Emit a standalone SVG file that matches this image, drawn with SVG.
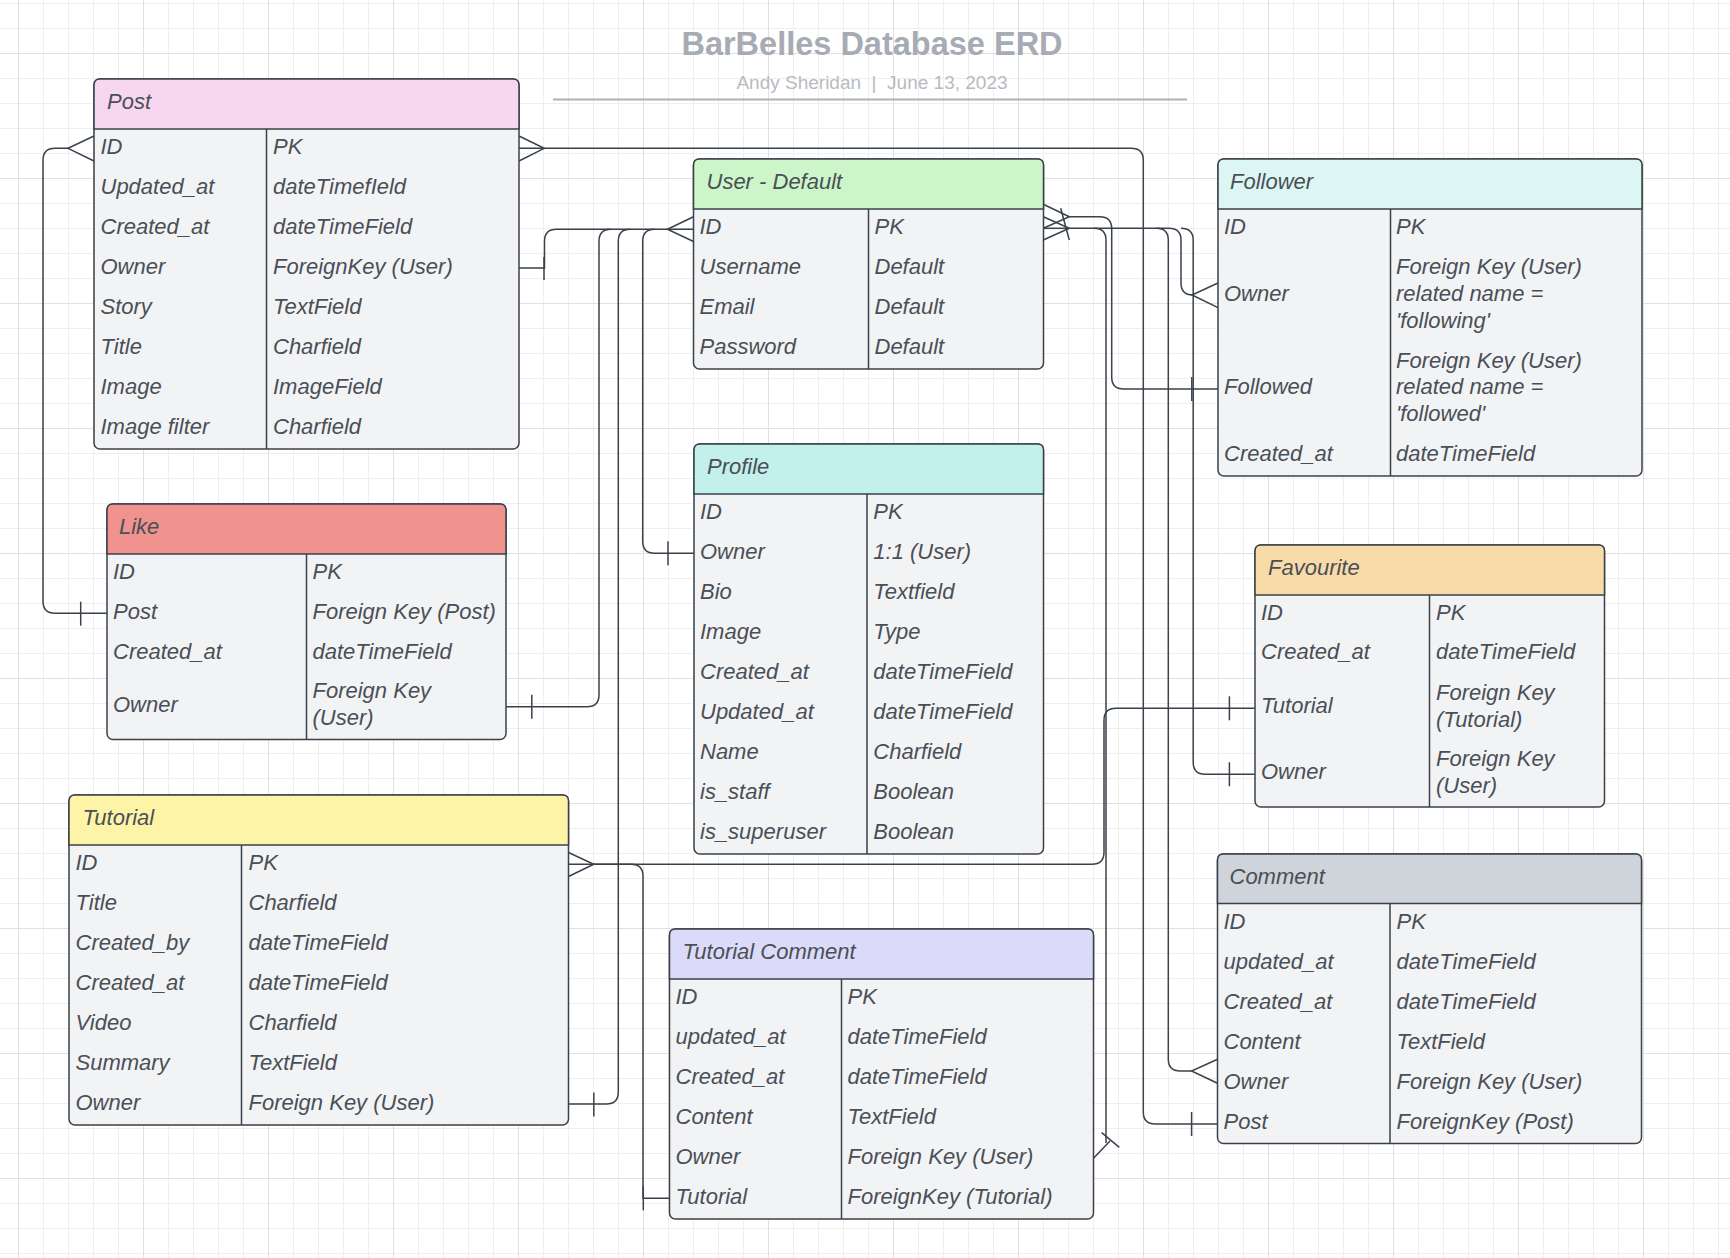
<svg xmlns="http://www.w3.org/2000/svg" width="1730" height="1258" viewBox="0 0 1730 1258">
<defs>
<pattern id="gMinor" width="25" height="25" patternUnits="userSpaceOnUse" x="18" y="3">
<rect x="0" y="0" width="25" height="1" fill="#eeeeee"/>
<rect x="0" y="0" width="1" height="25" fill="#eeeeee"/>
</pattern>
<pattern id="gMajor" width="125" height="125" patternUnits="userSpaceOnUse" x="18" y="53">
<rect x="0" y="0" width="125" height="1" fill="#e0e0e0"/>
<rect x="0" y="0" width="1" height="125" fill="#e0e0e0"/>
</pattern>
</defs>
<style>
text{font-family:"Liberation Sans",Arial,sans-serif;font-size:22px;font-style:italic;fill:#4a4f56}
.body{fill:#f2f3f5;stroke:#3a414a;stroke-width:1.5}
.hdr{stroke:#3a414a;stroke-width:1.5}
.ln{stroke:#3a414a;stroke-width:1.5;fill:none}
.conn path{fill:none;stroke:#3a414a;stroke-width:1.5}
.title{font-style:normal;font-weight:bold;font-size:32.5px;fill:#a7abb3}
.sub{font-style:normal;font-size:19px;fill:#b7bbc1;white-space:pre}
</style>
<rect width="1730" height="1258" fill="#ffffff"/>
<rect width="1730" height="1258" fill="url(#gMinor)"/>
<rect width="1730" height="1258" fill="url(#gMajor)"/>

<g id="title">
<text class="title" x="872" y="55" text-anchor="middle">BarBelles Database ERD</text>
<text class="sub" x="872" y="89" text-anchor="middle" xml:space="preserve">Andy Sheridan  |  June 13, 2023</text>
<line x1="553" y1="99.5" x2="1187" y2="99.5" stroke="#aeb1b8" stroke-width="2.2"/>
</g>

<g id="connectors" class="conn">
<!-- Post.ID left -> Like.Post -->
<path d="M68 148.3 H55 Q43 148.3 43 160.3 V601.3 Q43 613.3 55 613.3 H107"/>
<path d="M94 136 L68 148.3 L94 161"/>
<path d="M80.7 601.7 V625.7"/>
<!-- Post.ID right -> Comment.Post -->
<path d="M519 148.3 H1131.3 Q1143.3 148.3 1143.3 160.3 V1112 Q1143.3 1124 1155.3 1124 H1217.5"/>
<path d="M519 136 L544.2 148.3 L519 161"/>
<path d="M1191.6 1112 V1136"/>
<!-- Post.Owner -> User.ID -->
<path d="M519 268 H544.5 V241.3 Q544.5 229.3 556.5 229.3 H693.5"/>
<path d="M544 257 V280"/>
<path d="M693.5 216.7 L667.4 229.3 L693.5 241.5"/>
<!-- Like.Owner -> User.ID -->
<path d="M506 706.7 H587 Q599 706.7 599 694.7 V241.3 Q599 229.3 611 229.3"/>
<path d="M531.8 694.7 V718.7"/>
<!-- Tutorial.Owner -> User.ID -->
<path d="M568.5 1104 H606.3 Q618.3 1104 618.3 1092 V241.3 Q618.3 229.3 630.3 229.3"/>
<path d="M593.8 1092.5 V1116.5"/>
<!-- Profile.Owner -> User.ID -->
<path d="M694 553.3 H654.7 Q642.7 553.3 642.7 541.3 V241.3 Q642.7 229.3 654.7 229.3"/>
<path d="M668 541.3 V565.3"/>
<!-- Tutorial.ID -> Favourite.Tutorial -->
<path d="M568.5 864.3 H1092 Q1104 864.3 1104 852.3 V720.3 Q1104 708.3 1116 708.3 H1255"/>
<path d="M568.5 852.5 L593.8 864.3 L568.5 876.5"/>
<path d="M1229.4 696.3 V720.3"/>
<!-- Tutorial.ID -> TutorialComment.Tutorial -->
<path d="M593.8 864.3 H631 Q643 864.3 643 876.3 V1198.3 H669.5"/>
<path d="M643.3 1186.3 V1210.3"/>
<!-- User.ID right cluster -->
<path d="M1043.5 228.3 H1069.3"/>
<path d="M1043.3 204.3 L1069.3 216.7 L1043.3 228.3"/>
<path d="M1043.3 216.7 L1069.3 228.3 L1043.3 240"/>
<path d="M1060.7 208.3 L1069.3 240"/>
<!-- User.ID -> Follower.Followed -->
<path d="M1069.3 216.7 H1099.7 Q1111.7 216.7 1111.7 228.7 V377 Q1111.7 389 1123.7 389 H1218"/>
<path d="M1191.8 377 V401"/>
<!-- User.ID -> Follower.Owner -->
<path d="M1069.3 228.3 H1169 Q1181 228.3 1181 240.3 V283 Q1181 295 1193 295"/>
<path d="M1218 283 L1192 295 L1218 307.7"/>
<!-- User.ID -> Favourite.Owner -->
<path d="M1181 228.3 Q1193.2 228.3 1193.2 240.3 V762.3 Q1193.2 774.3 1205.2 774.3 H1255"/>
<path d="M1229.4 762.3 V786.3"/>
<!-- User.ID -> Comment.Owner -->
<path d="M1156.3 228.3 Q1168.3 228.3 1168.3 240.3 V1059 Q1168.3 1071 1180.3 1071 H1191.6"/>
<path d="M1217.5 1059.3 L1191.6 1071 L1217.5 1083.3"/>
<!-- User.ID -> TutorialComment.Owner -->
<path d="M1094 228.3 Q1106 228.3 1106 240.3 V1143"/>
<path d="M1093.5 1158.3 L1110 1141"/>
<path d="M1101.7 1132.7 L1119.3 1147.3"/>
</g>

<g id="post" transform="translate(94,79)">
<rect class="body" x="0" y="0" width="425" height="370" rx="6"/>
<path class="hdr" fill="#f7d6f0" d="M0 50 V6 Q0 0 6 0 H419 Q425 0 425 6 V50 Z"/>
<path class="ln" d="M172.5 50 V370"/>
<text x="13" y="29.5">Post</text>
<text x="6.5" y="75">ID</text><text x="179" y="75">PK</text>
<text x="6.5" y="115">Updated_at</text><text x="179" y="115">dateTimefIeld</text>
<text x="6.5" y="155">Created_at</text><text x="179" y="155">dateTimeField</text>
<text x="6.5" y="195">Owner</text><text x="179" y="195">ForeignKey (User)</text>
<text x="6.5" y="235">Story</text><text x="179" y="235">TextField</text>
<text x="6.5" y="275">Title</text><text x="179" y="275">Charfield</text>
<text x="6.5" y="315">Image</text><text x="179" y="315">ImageField</text>
<text x="6.5" y="355">Image filter</text><text x="179" y="355">Charfield</text>
</g>

<g id="user" transform="translate(693.5,159)">
<rect class="body" x="0" y="0" width="350" height="210" rx="6"/>
<path class="hdr" fill="#ccf5ca" d="M0 50 V6 Q0 0 6 0 H344 Q350 0 350 6 V50 Z"/>
<path class="ln" d="M175 50 V210"/>
<text x="13" y="29.5">User - Default</text>
<text x="6" y="75">ID</text><text x="181" y="75">PK</text>
<text x="6" y="115">Username</text><text x="181" y="115">Default</text>
<text x="6" y="155">Email</text><text x="181" y="155">Default</text>
<text x="6" y="195">Password</text><text x="181" y="195">Default</text>
</g>

<g id="follower" transform="translate(1218,159)">
<rect class="body" x="0" y="0" width="424" height="317" rx="6"/>
<path class="hdr" fill="#dcf7f3" d="M0 50 V6 Q0 0 6 0 H418 Q424 0 424 6 V50 Z"/>
<path class="ln" d="M172.5 50 V317"/>
<text x="12" y="29.5">Follower</text>
<text x="6" y="75">ID</text><text x="178" y="75">PK</text>
<text x="6" y="142">Owner</text>
<text x="178" y="115.3">Foreign Key (User)</text>
<text x="178" y="142">related name =</text>
<text x="178" y="168.6">'following'</text>
<text x="6" y="235.3">Followed</text>
<text x="178" y="208.6">Foreign Key (User)</text>
<text x="178" y="235.3">related name =</text>
<text x="178" y="262">'followed'</text>
<text x="6" y="302">Created_at</text><text x="178" y="302">dateTimeField</text>
</g>

<g id="like" transform="translate(107,504)">
<rect class="body" x="0" y="0" width="399" height="235.5" rx="6"/>
<path class="hdr" fill="#f0938f" d="M0 50 V6 Q0 0 6 0 H393 Q399 0 399 6 V50 Z"/>
<path class="ln" d="M199.5 50 V235.5"/>
<text x="12" y="29.5">Like</text>
<text x="6" y="75">ID</text><text x="205.5" y="75">PK</text>
<text x="6" y="115">Post</text><text x="205.5" y="115">Foreign Key (Post)</text>
<text x="6" y="155">Created_at</text><text x="205.5" y="155">dateTimeField</text>
<text x="6" y="207.6">Owner</text>
<text x="205.5" y="194.3">Foreign Key</text>
<text x="205.5" y="221">(User)</text>
</g>

<g id="profile" transform="translate(694,444)">
<rect class="body" x="0" y="0" width="349.5" height="410" rx="6"/>
<path class="hdr" fill="#c3f0eb" d="M0 50 V6 Q0 0 6 0 H343.5 Q349.5 0 349.5 6 V50 Z"/>
<path class="ln" d="M173 50 V410"/>
<text x="13" y="29.5">Profile</text>
<text x="6" y="75">ID</text><text x="179.3" y="75">PK</text>
<text x="6" y="115">Owner</text><text x="179.3" y="115">1:1 (User)</text>
<text x="6" y="155">Bio</text><text x="179.3" y="155">Textfield</text>
<text x="6" y="195">Image</text><text x="179.3" y="195">Type</text>
<text x="6" y="235">Created_at</text><text x="179.3" y="235">dateTimeField</text>
<text x="6" y="275">Updated_at</text><text x="179.3" y="275">dateTimeField</text>
<text x="6" y="315">Name</text><text x="179.3" y="315">Charfield</text>
<text x="6" y="355">is_staff</text><text x="179.3" y="355">Boolean</text>
<text x="6" y="395">is_superuser</text><text x="179.3" y="395">Boolean</text>
</g>

<g id="favourite" transform="translate(1255,545)">
<rect class="body" x="0" y="0" width="349.5" height="262" rx="6"/>
<path class="hdr" fill="#f8dba8" d="M0 50 V6 Q0 0 6 0 H343.5 Q349.5 0 349.5 6 V50 Z"/>
<path class="ln" d="M174.5 50 V262"/>
<text x="13" y="29.5">Favourite</text>
<text x="6" y="75.3">ID</text><text x="181" y="75.3">PK</text>
<text x="6" y="114.3">Created_at</text><text x="181" y="114.3">dateTimeField</text>
<text x="6" y="167.6">Tutorial</text>
<text x="181" y="154.9">Foreign Key</text>
<text x="181" y="181.6">(Tutorial)</text>
<text x="6" y="234.3">Owner</text>
<text x="181" y="221">Foreign Key</text>
<text x="181" y="247.6">(User)</text>
</g>

<g id="tutorial" transform="translate(69,795)">
<rect class="body" x="0" y="0" width="499.5" height="330" rx="6"/>
<path class="hdr" fill="#fef4a8" d="M0 50 V6 Q0 0 6 0 H493.5 Q499.5 0 499.5 6 V50 Z"/>
<path class="ln" d="M172.5 50 V330"/>
<text x="13.5" y="29.5">Tutorial</text>
<text x="6.5" y="75">ID</text><text x="179.5" y="75">PK</text>
<text x="6.5" y="115">Title</text><text x="179.5" y="115">Charfield</text>
<text x="6.5" y="155">Created_by</text><text x="179.5" y="155">dateTimeField</text>
<text x="6.5" y="195">Created_at</text><text x="179.5" y="195">dateTimeField</text>
<text x="6.5" y="235">Video</text><text x="179.5" y="235">Charfield</text>
<text x="6.5" y="275">Summary</text><text x="179.5" y="275">TextField</text>
<text x="6.5" y="315">Owner</text><text x="179.5" y="315">Foreign Key (User)</text>
</g>

<g id="tutorial-comment" transform="translate(669.5,929)">
<rect class="body" x="0" y="0" width="424" height="290" rx="6"/>
<path class="hdr" fill="#dcdaf9" d="M0 50 V6 Q0 0 6 0 H418 Q424 0 424 6 V50 Z"/>
<path class="ln" d="M172 50 V290"/>
<text x="13" y="29.5">Tutorial Comment</text>
<text x="6" y="75">ID</text><text x="178" y="75">PK</text>
<text x="6" y="115">updated_at</text><text x="178" y="115">dateTimeField</text>
<text x="6" y="155">Created_at</text><text x="178" y="155">dateTimeField</text>
<text x="6" y="195">Content</text><text x="178" y="195">TextField</text>
<text x="6" y="235">Owner</text><text x="178" y="235">Foreign Key (User)</text>
<text x="6" y="275">Tutorial</text><text x="178" y="275">ForeignKey (Tutorial)</text>
</g>

<g id="comment" transform="translate(1217.5,854)">
<rect class="body" x="0" y="0" width="424" height="289.5" rx="6"/>
<path class="hdr" fill="#cfd3da" d="M0 49.5 V6 Q0 0 6 0 H418 Q424 0 424 6 V49.5 Z"/>
<path class="ln" d="M172.5 49.5 V289.5"/>
<text x="12" y="29.5">Comment</text>
<text x="6" y="75">ID</text><text x="179" y="75">PK</text>
<text x="6" y="115">updated_at</text><text x="179" y="115">dateTimeField</text>
<text x="6" y="155">Created_at</text><text x="179" y="155">dateTimeField</text>
<text x="6" y="195">Content</text><text x="179" y="195">TextField</text>
<text x="6" y="235">Owner</text><text x="179" y="235">Foreign Key (User)</text>
<text x="6" y="275">Post</text><text x="179" y="275">ForeignKey (Post)</text>
</g>
</svg>
